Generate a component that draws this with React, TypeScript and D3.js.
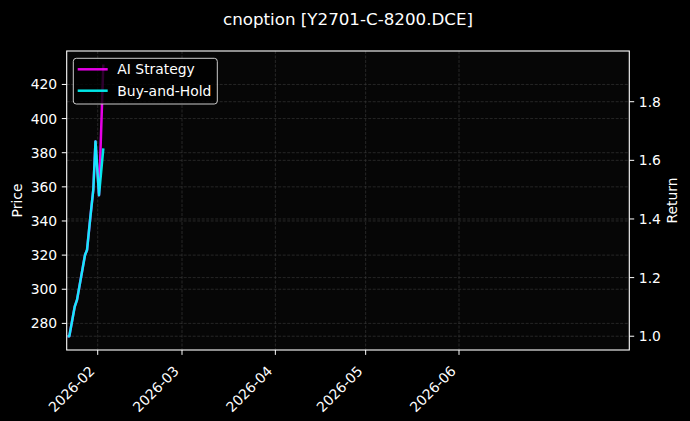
import * as d3 from "d3";

// readings (returns on the right axis)
const times = [
  "2026-01-22T00:00",
  "2026-01-22T13:30",
  "2026-01-23T11:00",
  "2026-01-24T08:40",
  "2026-01-25T03:00",
  "2026-01-27T18:40",
  "2026-01-28T10:50",
  "2026-01-29T10:50",
  "2026-01-30T12:40",
  "2026-01-31T06:20",
  "2026-02-01T10:20",
  "2026-02-02T20:40",
];
const aiStrategy = [1.0, 1.0, 1.05, 1.101, 1.124, 1.277, 1.294, 1.396, 1.499, 1.664, 1.481, 1.927];
const buyAndHold = [1.0, 1.0, 1.05, 1.101, 1.124, 1.277, 1.294, 1.396, 1.499, 1.664, 1.481, 1.641];

const xDomain = ["2026-01-21T16:48", "2026-07-27T13:30"];
const priceDomain = [264.4, 439.6];
const returnDomain = [0.953, 1.973];
const priceTicks = [280, 300, 320, 340, 360, 380, 400, 420];
const returnTicks = [1.0, 1.2, 1.4, 1.6, 1.8];
const monthTicks = ["2026-02-01T00:00", "2026-03-01T00:00", "2026-04-01T00:00", "2026-05-01T00:00", "2026-06-01T00:00"];

const seriesNames = ["AI Strategy", "Buy-and-Hold"];
const seriesColors = ["#ff00ff", "#00ffff"];

const WIDTH = 690;
const HEIGHT = 421;
const PLOT = { left: 66.7, right: 629.3, top: 51, bottom: 350 };
const FONT = "'DejaVu Sans', sans-serif";

export default function App() {
  const x = d3
    .scaleTime()
    .domain(xDomain.map((d) => new Date(d)))
    .range([PLOT.left, PLOT.right]);
  const yPrice = d3.scaleLinear().domain(priceDomain).range([PLOT.bottom, PLOT.top]);
  const yReturn = d3.scaleLinear().domain(returnDomain).range([PLOT.bottom, PLOT.top]);

  const dates = times.map((t) => new Date(t));
  const line = d3
    .line<number>()
    .x((_, i) => x(dates[i]))
    .y((v) => yReturn(v));

  const series = [aiStrategy, buyAndHold];
  const months = monthTicks.map((m) => new Date(m));
  const fmtMonth = d3.timeFormat("%Y-%m");
  const gridColor = "#3c3c3c";

  return (
    <div style={{ position: "fixed", left: 0, top: 0 }}>
      <svg width={WIDTH} height={HEIGHT} style={{ display: "block", fontFamily: FONT }}>
        <defs>
          <clipPath id="plot-clip">
            <rect
              x={PLOT.left}
              y={PLOT.top}
              width={PLOT.right - PLOT.left}
              height={PLOT.bottom - PLOT.top}
            />
          </clipPath>
        </defs>
        <rect width={WIDTH} height={HEIGHT} fill="#000" />
        <rect
          x={PLOT.left}
          y={PLOT.top}
          width={PLOT.right - PLOT.left}
          height={PLOT.bottom - PLOT.top}
          fill="#060606"
        />

        {/* grid */}
        <g stroke={gridColor} strokeWidth={0.6} strokeDasharray="3,1.5">
          {months.map((m) => (
            <line key={m.toISOString()} x1={x(m)} x2={x(m)} y1={PLOT.top} y2={PLOT.bottom} />
          ))}
          {priceTicks.map((p) => (
            <line key={"p" + p} x1={PLOT.left} x2={PLOT.right} y1={yPrice(p)} y2={yPrice(p)} />
          ))}
          {returnTicks.map((r) => (
            <line key={"r" + r} x1={PLOT.left} x2={PLOT.right} y1={yReturn(r)} y2={yReturn(r)} />
          ))}
        </g>

        {/* lines */}
        <g clipPath="url(#plot-clip)" fill="none">
          {series.map((s, i) => (
            <path
              key={seriesNames[i]}
              d={line(s) ?? ""}
              stroke={seriesColors[i]}
              strokeOpacity={0.9}
              strokeWidth={2.5}
              strokeLinejoin="round"
              strokeLinecap="butt"
            />
          ))}
        </g>

        {/* spines */}
        <rect
          x={PLOT.left}
          y={PLOT.top}
          width={PLOT.right - PLOT.left}
          height={PLOT.bottom - PLOT.top}
          fill="none"
          stroke="#fff"
          strokeWidth={1.1}
        />

        {/* left axis */}
        <g fill="#fff" fontSize={13.9}>
          {priceTicks.map((p) => (
            <g key={p}>
              <line x1={PLOT.left - 4.9} x2={PLOT.left} y1={yPrice(p)} y2={yPrice(p)} stroke="#fff" strokeWidth={1} />
              <text x={PLOT.left - 9.5} y={yPrice(p)} textAnchor="end" dominantBaseline="central">
                {p}
              </text>
            </g>
          ))}
          <text transform={`translate(21.5,${(PLOT.top + PLOT.bottom) / 2}) rotate(-90)`} textAnchor="middle">
            Price
          </text>
        </g>

        {/* right axis */}
        <g fill="#fff" fontSize={13.9}>
          {returnTicks.map((r) => (
            <g key={r}>
              <line x1={PLOT.right} x2={PLOT.right + 4.9} y1={yReturn(r)} y2={yReturn(r)} stroke="#fff" strokeWidth={1} />
              <text x={PLOT.right + 9.5} y={yReturn(r)} dominantBaseline="central">
                {d3.format(".1f")(r)}
              </text>
            </g>
          ))}
          <text transform={`translate(677,${(PLOT.top + PLOT.bottom) / 2}) rotate(-90)`} textAnchor="middle">
            Return
          </text>
        </g>

        {/* bottom axis */}
        <g fill="#fff" fontSize={13.9}>
          {months.map((m) => (
            <g key={m.toISOString()}>
              <line x1={x(m)} x2={x(m)} y1={PLOT.bottom} y2={PLOT.bottom + 4.9} stroke="#fff" strokeWidth={1} />
              <text transform={`translate(${x(m) - 2.2},372) rotate(-45)`} textAnchor="end">
                {fmtMonth(m)}
              </text>
            </g>
          ))}
        </g>

        {/* title */}
        <text
          x={(PLOT.left + PLOT.right) / 2}
          y={24.5}
          textAnchor="middle"
          fill="#fff"
          fontSize={16.7}
        >
          cnoption [Y2701-C-8200.DCE]
        </text>

        {/* legend */}
        <g>
          <rect x={73.3} y={58.3} width={144} height={45.7} rx={3} fill="#000" fillOpacity={0.8} stroke="#cccccc" strokeWidth={1} />
          {seriesNames.map((name, i) => (
            <g key={name}>
              <line
                x1={77.7}
                x2={107.7}
                y1={69.3 + i * 21.4}
                y2={69.3 + i * 21.4}
                stroke={seriesColors[i]}
                strokeOpacity={0.9}
                strokeWidth={2.5}
              />
              <text x={117.3} y={69.3 + i * 21.4} fill="#fff" fontSize={13.9} dominantBaseline="central">
                {name}
              </text>
            </g>
          ))}
        </g>
      </svg>
    </div>
  );
}
